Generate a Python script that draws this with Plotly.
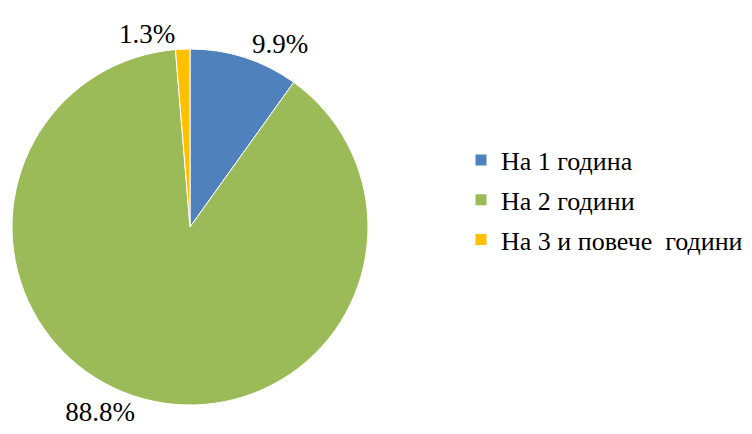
import plotly.graph_objects as go

labels = ["На 1 година", "На 2 години", "На 3 и повече  години"]
values = [9.9, 88.8, 1.3]
colors = ["#4F81BD", "#9BBB59", "#FFC000"]
text_labels = ["9.9%", "88.8%", "1.3%"]

FONT = "Liberation Serif"

fig = go.Figure()
fig.add_trace(go.Pie(
    labels=labels,
    values=values,
    text=text_labels,
    textinfo="text",
    textposition="outside",
    sort=False,
    direction="clockwise",
    rotation=0,
    marker=dict(colors=colors, line=dict(color="white", width=1)),
    textfont=dict(family=FONT, size=27, color="#000000"),
    outsidetextfont=dict(family=FONT, size=27, color="#000000"),
    domain=dict(x=[4/752, 360/752], y=[1-397/434, 1-41/434]),
    showlegend=False,
))
# legend entries (one per category, same colours as the slices)
for lab, col in zip(labels, colors):
    fig.add_trace(go.Scatter(
        x=[None], y=[None], mode="markers", name=lab,
        legendgroup=lab,
        marker=dict(symbol="square", size=11, color=col),
        showlegend=True,
    ))
fig.update_layout(
    width=752, height=434,
    margin=dict(l=0, r=0, t=0, b=0),
    paper_bgcolor="white",
    plot_bgcolor="white",
    xaxis=dict(visible=False),
    yaxis=dict(visible=False),
    font=dict(family=FONT, size=26, color="#000000"),
    legend=dict(x=453/752, y=1-192/434, xanchor="left", yanchor="middle",
                font=dict(family=FONT, size=26, color="#000000"),
                tracegroupgap=3, itemwidth=30),
)
fig.write_html("out.html")
